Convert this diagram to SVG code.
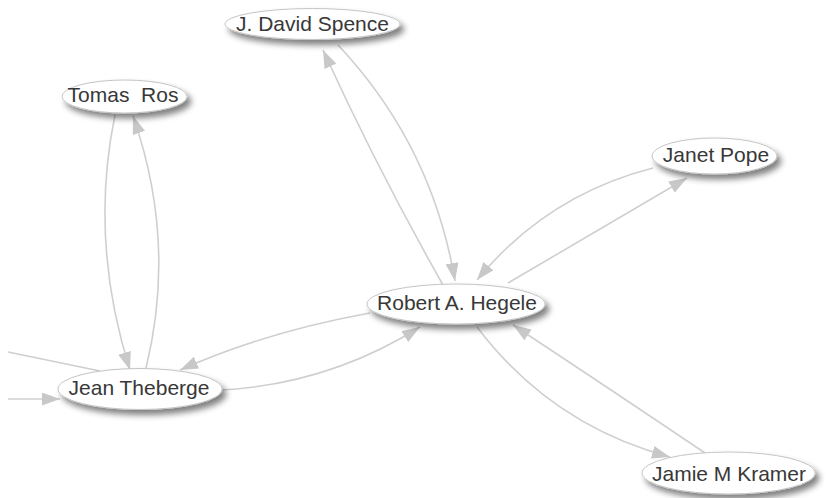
<svg xmlns="http://www.w3.org/2000/svg" width="827" height="498" viewBox="0 0 827 498">
<style>
.edge{fill:none;stroke:#cfcfcf;stroke-width:1.6}
.node ellipse{fill:#ffffff;stroke:#c4c4c4;stroke-width:1;filter:url(#shadow)}
.node text{font-family:"Liberation Sans",Arial,sans-serif;font-size:21px;fill:#383838;text-anchor:middle}
</style>
<defs>
<marker id="arrow" markerUnits="userSpaceOnUse" markerWidth="19" markerHeight="13" refX="18" refY="6.5" orient="auto">
<path d="M0,0 L18,6.5 L0,13 Z" fill="#c8c8c8"/>
</marker>
<filter id="shadow" x="-20%" y="-40%" width="150%" height="220%">
<feGaussianBlur in="SourceAlpha" stdDeviation="3" result="b"/>
<feOffset in="b" dx="4" dy="5" result="o"/>
<feComponentTransfer in="o" result="s"><feFuncA type="linear" slope="0.5"/></feComponentTransfer>
<feMerge><feMergeNode in="s"/><feMergeNode in="SourceGraphic"/></feMerge>
</filter>
</defs>
<rect width="827" height="498" fill="#ffffff"/>
<g id="connectors">
<path class="edge" d="M443,285 Q377,168.5 323,50" marker-end="url(#arrow)"/>
<path class="edge" d="M338,45 Q432,145 455,281" marker-end="url(#arrow)"/>
<path class="edge" d="M653,168 Q547,195 477,280" marker-end="url(#arrow)"/>
<path class="edge" d="M508,283 Q588,236 687,178" marker-end="url(#arrow)"/>
<path class="edge" d="M370,313 Q265,332 180,370" marker-end="url(#arrow)"/>
<path class="edge" d="M222,390 Q329,384 420,327" marker-end="url(#arrow)"/>
<path class="edge" d="M477,327 Q551,425 670,457" marker-end="url(#arrow)"/>
<path class="edge" d="M705,453 Q601,383 513,325" marker-end="url(#arrow)"/>
<path class="edge" d="M115,115 Q89,241 130,370" marker-end="url(#arrow)"/>
<path class="edge" d="M146,368 Q177,242 133,116" marker-end="url(#arrow)"/>
<path class="edge" d="M8,352 L100,371"/>
<path class="edge" d="M8,399 L60,399" marker-end="url(#arrow)"/>
</g>
<g id="node-jdavidspence" class="node">
<ellipse cx="312.5" cy="24" rx="87.5" ry="15.5"/>
<text x="312.5" y="31">J. David Spence</text>
</g>
<g id="node-tomasros" class="node">
<ellipse cx="124.5" cy="96.5" rx="62.5" ry="16.5"/>
<text x="123" y="102" xml:space="preserve">Tomas  Ros</text>
</g>
<g id="node-janetpope" class="node">
<ellipse cx="714.5" cy="156" rx="62.5" ry="18"/>
<text x="716" y="162">Janet Pope</text>
</g>
<g id="node-roberthegele" class="node">
<ellipse cx="456" cy="304" rx="89" ry="20"/>
<text x="457" y="310">Robert A. Hegele</text>
</g>
<g id="node-jeantheberge" class="node">
<ellipse cx="140" cy="389" rx="82" ry="20.5"/>
<text x="139" y="395">Jean Theberge</text>
</g>
<g id="node-jamiemkramer" class="node">
<ellipse cx="728.5" cy="473" rx="86.5" ry="21"/>
<text x="729" y="481">Jamie M Kramer</text>
</g>
</svg>
